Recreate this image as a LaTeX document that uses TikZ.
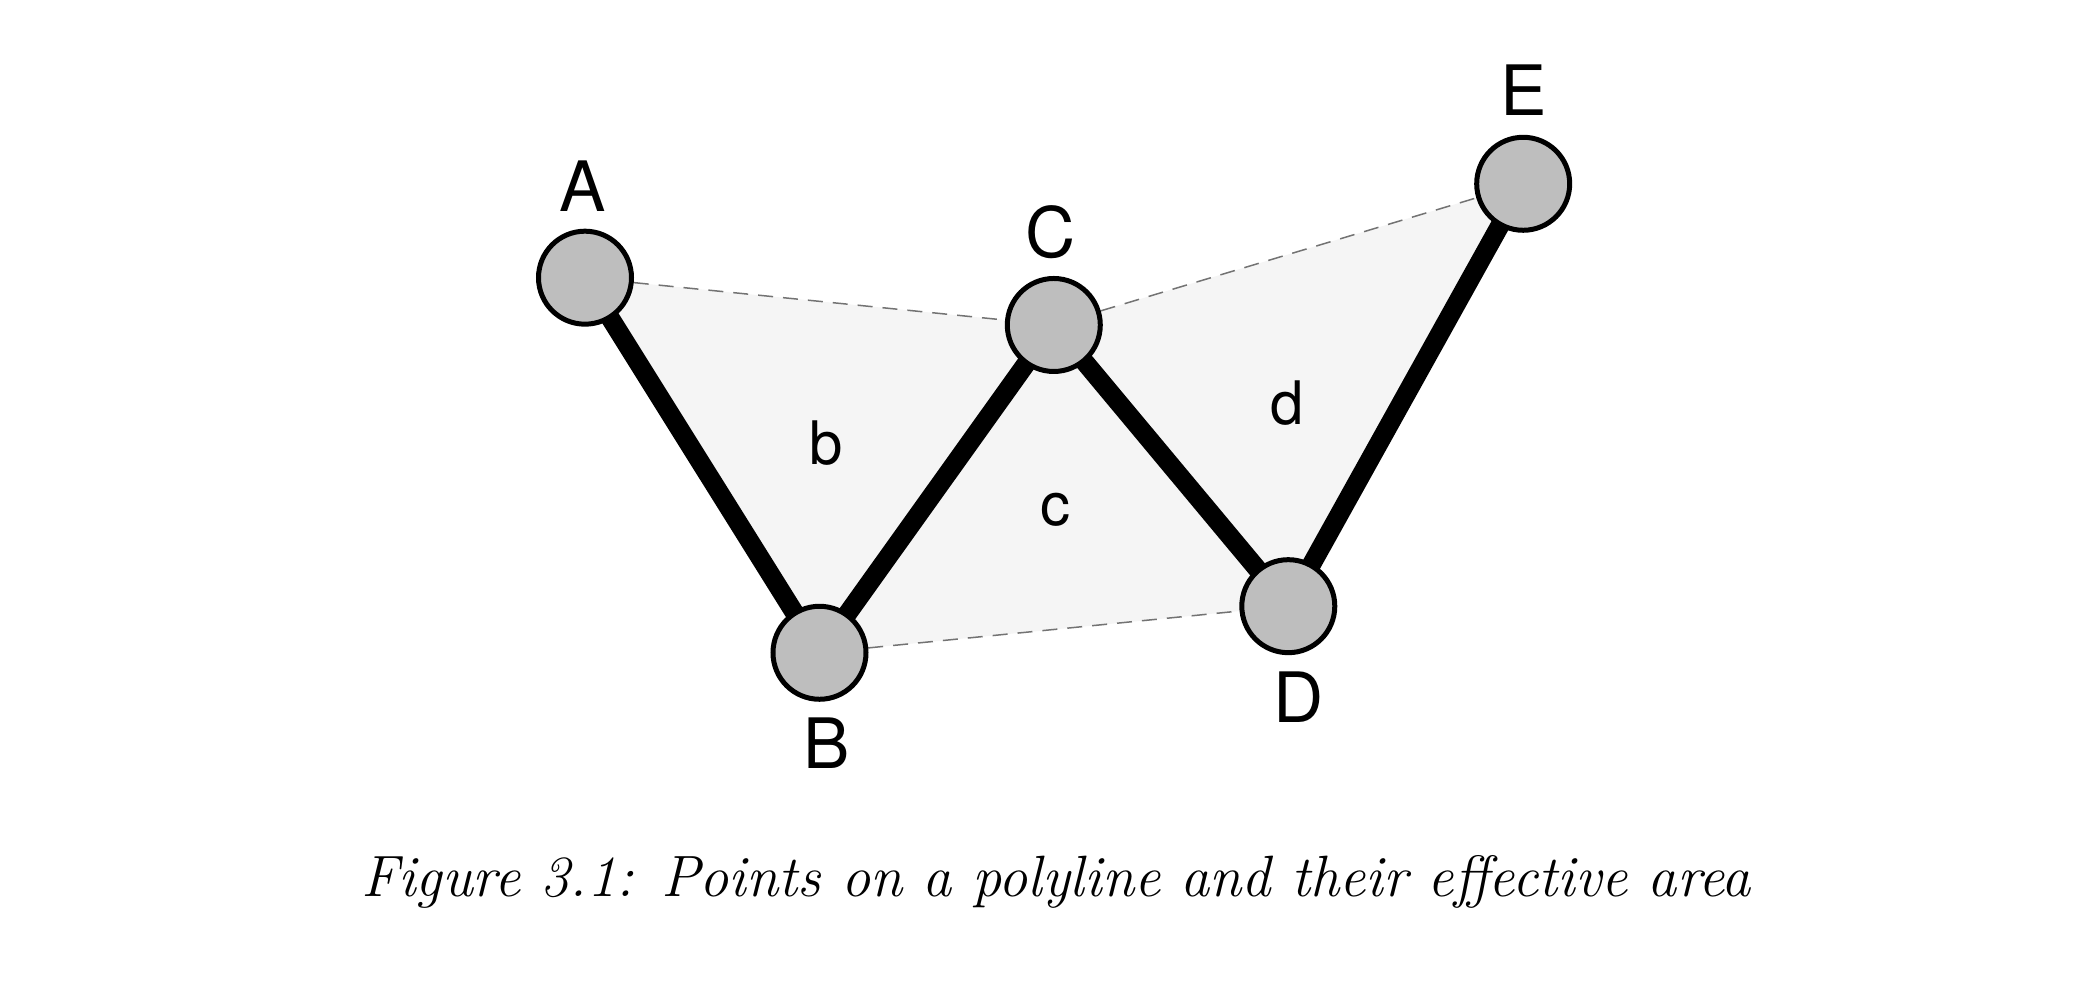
\documentclass[tikz,border=0pt]{standalone}
\usepackage{fontspec}
\newfontfamily\helv{TeX Gyre Heros}
\usetikzlibrary{positioning,backgrounds}
\definecolor{ptgray}{gray}{0.745}
\definecolor{areagray}{gray}{0.96}
\definecolor{dashgray}{gray}{0.45}
\tikzset{
	pt/.style={circle, draw, line width=1pt, fill=ptgray, minimum size=18.6pt, inner sep=0pt},
	ptname/.style={font=\helv\fontsize{13.9}{16}\selectfont, inner sep=0pt},
	areaname/.style={font=\helv\fontsize{12}{14}\selectfont, inner sep=0pt, anchor=base},
	seg/.style={line width=3.8pt, line join=round},
	chord/.style={dashgray, line width=.3pt, dash pattern=on 3pt off 2pt},
}
\begin{document}
\begin{tikzpicture}[x=.2pt, y=.2pt]
	\useasboundingbox (0,0) rectangle (2098,-981);
	% points of the polyline
	\node[pt] (A) at (585,-277.7) {};
	\node[pt] (B) at (819.5,-652.8) {};
	\node[pt] (C) at (1053.8,-325) {};
	\node[pt] (D) at (1288.3,-606.2) {};
	\node[pt] (E) at (1523.2,-183.8) {};
	\node[ptname, above=3.2pt of A, xshift=-.4pt] (lA) {A};
	\node[ptname, below=3pt of B, xshift=1.4pt] (lB) {B};
	\node[ptname, above=3.2pt of C, xshift=-.6pt] (lC) {C};
	\node[ptname, below=3.2pt of D, xshift=2.1pt] (lD) {D};
	\node[ptname, above=3.6pt of E] (lE) {E};
	% effective areas
	\node[areaname] (ab) at (826,-465) {b};
	\node[areaname] (ac) at (1055.8,-526) {c};
	\node[areaname] (ad) at (1287,-425) {d};
	\begin{scope}[on background layer]
		\fill[areagray] (A.center)--(B.center)--(D.center)--(E.center)--(C.center)--cycle;
		\draw[chord] (A)--(C) (C)--(E) (B)--(D);
		\draw[seg] (A.center)--(B.center)--(C.center)--(D.center)--(E.center);
	\end{scope}
	\node[anchor=base, font=\fontsize{11.66}{14}\selectfont\itshape] (cap) at (1056,-896.7) {Figure 3.1: Points on a polyline and their effective area};
\end{tikzpicture}
\end{document}
